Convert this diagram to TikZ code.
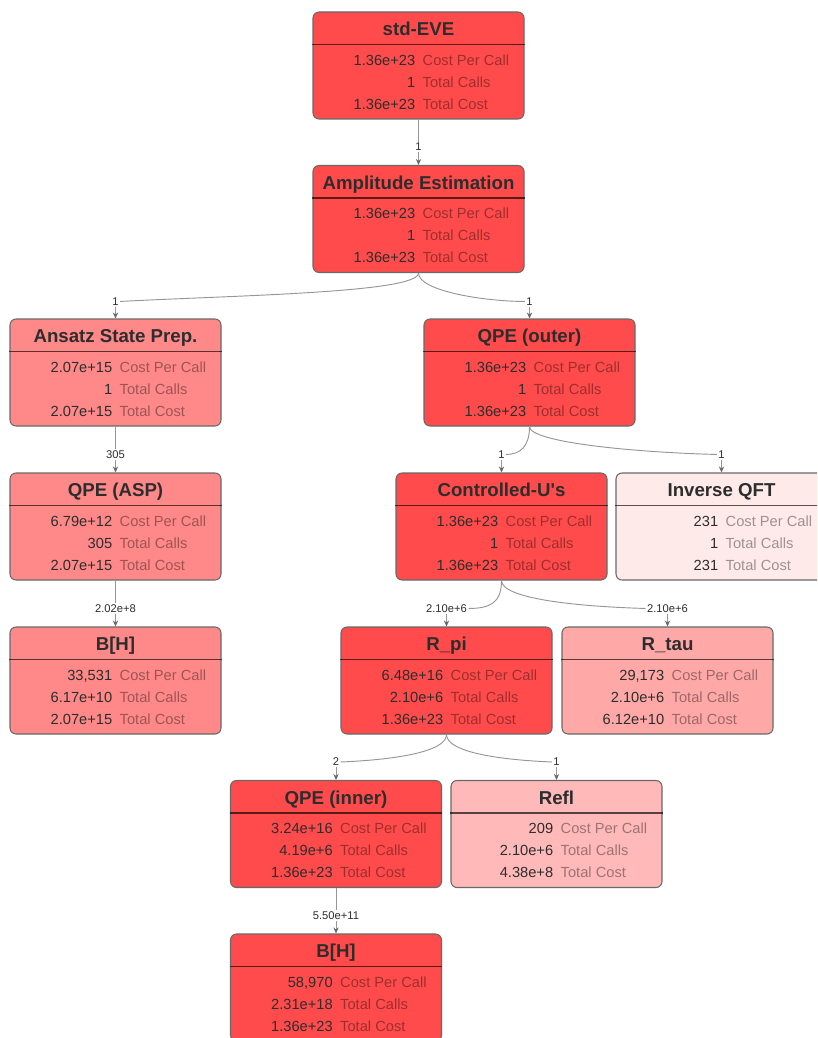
\documentclass[tikz,border=0pt]{standalone}
\usepackage{fontspec}
\setmainfont{Liberation Sans}
\usetikzlibrary{calc,arrows.meta}

\definecolor{hot}{RGB}{255,75,75}
\definecolor{warm}{RGB}{255,136,136}
\definecolor{mild}{RGB}{255,168,168}
\definecolor{soft}{RGB}{255,185,185}
\definecolor{cool}{RGB}{255,234,234}
\definecolor{rim}{RGB}{105,105,105}
\definecolor{ink}{RGB}{45,45,45}
\definecolor{wire}{RGB}{150,150,150}

\newcommand{\callbox}[7]{%
  \node[callnode, fill=#3] (#1) at #2 {};
  \node[calltitle] (#1-title) at ($(#1.north)+(0,24.5)$) {#4};
  \draw[callsep] ($(#1.north west)+(0,33)$) -- ($(#1.north east)+(0,33)$);
  \node[callnum] (#1-n1) at ($(#1.north west)+(103,54)$) {#5};
  \node[calltxt] (#1-t1) at ($(#1.north west)+(110,54)$) {Cost Per Call};
  \node[callnum] (#1-n2) at ($(#1.north west)+(103,76)$) {#6};
  \node[calltxt] (#1-t2) at ($(#1.north west)+(110,76)$) {Total Calls};
  \node[callnum] (#1-n3) at ($(#1.north west)+(103,98)$) {#7};
  \node[calltxt] (#1-t3) at ($(#1.north west)+(110,98)$) {Total Cost};
}

\begin{document}
\begin{tikzpicture}
  [x=0.75pt, y=-0.75pt,
   callnode/.style={draw=rim, rounded corners=4.5pt, minimum width=158.25pt,
     minimum height=80.25pt, inner sep=0pt, line width=0.8pt},
   calltitle/.style={anchor=base, inner sep=0pt, text=ink,
     font=\fontsize{14}{16}\selectfont\bfseries},
   callnum/.style={anchor=base east, inner sep=0pt, text=ink,
     font=\fontsize{11}{13}\selectfont},
   calltxt/.style={anchor=base west, inner sep=0pt, text=black, text opacity=0.38,
     font=\fontsize{11}{13}\selectfont},
   callsep/.style={draw=black, draw opacity=0.65, line width=1.1pt},
   callcount/.style={inner sep=1pt, text=ink, font=\fontsize{8.4}{10}\selectfont},
   callline/.style={draw=wire, line width=0.7pt},
   callarrow/.style={draw=wire, line width=0.7pt, -{Stealth[length=4.5pt,width=4pt,color=rim]}}]
\path[use as bounding box] (0,0) rectangle (817,1038);
\clip (0,0) rectangle (817,1038);

\callbox{eve}{(418.5,65.5)}{hot}{std-EVE}{1.36e+23}{1}{1.36e+23}
\callbox{amp}{(418.5,219)}{hot}{Amplitude Estimation}{1.36e+23}{1}{1.36e+23}
\callbox{asp}{(115.5,372.5)}{warm}{Ansatz State Prep.}{2.07e+15}{1}{2.07e+15}
\callbox{qpeo}{(529.5,372.5)}{hot}{QPE (outer)}{1.36e+23}{1}{1.36e+23}
\callbox{qasp}{(115.5,526.5)}{warm}{QPE (ASP)}{6.79e+12}{305}{2.07e+15}
\callbox{cu}{(501.5,526.5)}{hot}{Controlled-U\textquotesingle s}{1.36e+23}{1}{1.36e+23}
\callbox{iqft}{(721.5,526.5)}{cool}{Inverse QFT}{231}{1}{231}
\callbox{bha}{(115.5,680.5)}{warm}{B[H]}{33,531}{6.17e+10}{2.07e+15}
\callbox{rpi}{(446.5,680.5)}{hot}{R\_pi}{6.48e+16}{2.10e+6}{1.36e+23}
\callbox{rtau}{(667.5,680.5)}{mild}{R\_tau}{29,173}{2.10e+6}{6.12e+10}
\callbox{qpei}{(336,834)}{hot}{QPE (inner)}{3.24e+16}{4.19e+6}{1.36e+23}
\callbox{refl}{(556.5,834)}{soft}{Refl}{209}{2.10e+6}{4.38e+8}
\callbox{bhb}{(336,987.5)}{hot}{B[H]}{58,970}{2.31e+18}{1.36e+23}

% call counts
\node[callcount] (c-amp) at ($(amp.north)+(0,-18)$) {1};
\node[callcount] (c-asp) at ($(asp.north)+(0,-17)$) {1};
\node[callcount] (c-qpeo) at ($(qpeo.north)+(0,-17)$) {1};
\node[callcount] (c-qasp) at ($(qasp.north)+(0,-18)$) {305};
\node[callcount] (c-cu) at ($(cu.north)+(0,-18)$) {1};
\node[callcount] (c-iqft) at ($(iqft.north)+(0,-18)$) {1};
\node[callcount] (c-bha) at ($(bha.north)+(0,-18)$) {2.02e+8};
\node[callcount] (c-rpi) at ($(rpi.north)+(0,-18)$) {2.10e+6};
\node[callcount] (c-rtau) at ($(rtau.north)+(0,-18)$) {2.10e+6};
\node[callcount] (c-qpei) at ($(qpei.north)+(0,-18)$) {2};
\node[callcount] (c-refl) at ($(refl.north)+(0,-18)$) {1};
\node[callcount] (c-bhb) at ($(bhb.north)+(0,-18)$) {5.50e+11};

% lines to the counts
\draw[callline] (eve) -- (c-amp);
\draw[callline] (amp.south) .. controls +(0,20) and +(110,-6) .. (c-asp.east);
\draw[callline] (amp.south) .. controls +(0,18) and +(-40,0) .. (c-qpeo.west);
\draw[callline] (asp) -- (c-qasp);
\draw[callline] (qpeo.south) .. controls +(0,20) and +(14,0) .. (c-cu.east);
\draw[callline] (qpeo.south) .. controls +(0,16) and +(-80,-2) .. (c-iqft.west);
\draw[callline] (qasp) -- (c-bha);
\draw[callline] (cu.south) .. controls +(0,22) and +(22,0) .. (c-rpi.east);
\draw[callline] (cu.south) .. controls +(0,18) and +(-70,-2) .. (c-rtau.west);
\draw[callline] (rpi.south) .. controls +(0,18) and +(50,-2) .. (c-qpei.east);
\draw[callline] (rpi.south) .. controls +(0,18) and +(-50,-2) .. (c-refl.west);
\draw[callline] (qpei) -- (c-bhb);

% arrows into the boxes
\draw[callarrow] (c-amp) -- (amp);
\draw[callarrow] (c-asp) -- (asp);
\draw[callarrow] (c-qpeo) -- (qpeo);
\draw[callarrow] (c-qasp) -- (qasp);
\draw[callarrow] (c-cu) -- (cu);
\draw[callarrow] (c-iqft) -- (iqft);
\draw[callarrow] (c-bha) -- (bha);
\draw[callarrow] (c-rpi) -- (rpi);
\draw[callarrow] (c-rtau) -- (rtau);
\draw[callarrow] (c-qpei) -- (qpei);
\draw[callarrow] (c-refl) -- (refl);
\draw[callarrow] (c-bhb) -- (bhb);
\end{tikzpicture}
\end{document}
